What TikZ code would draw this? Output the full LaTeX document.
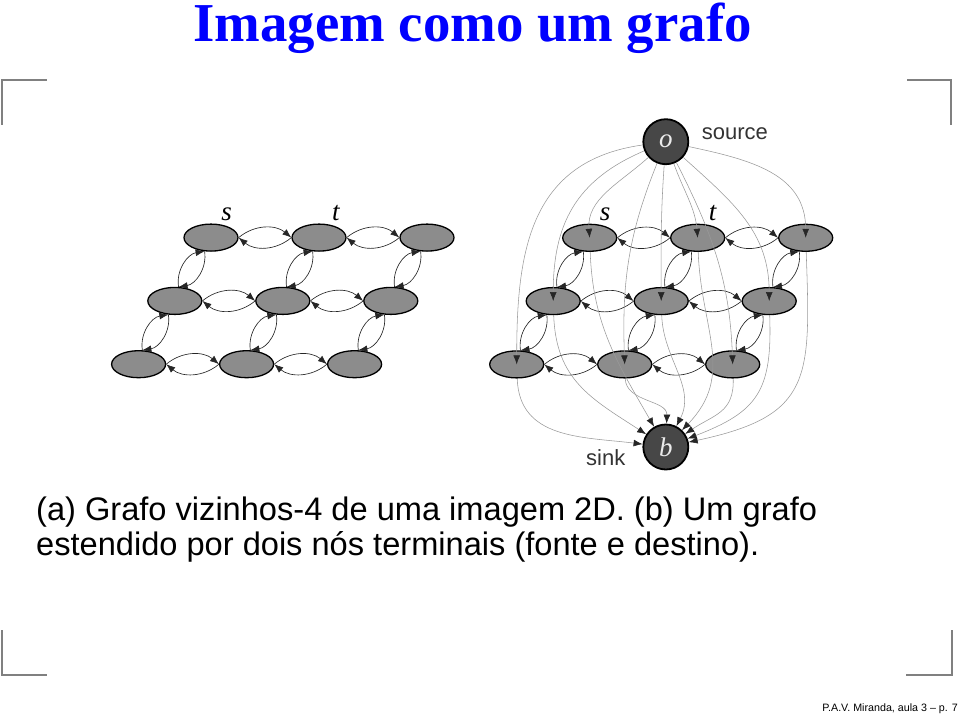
\documentclass[tikz,border=0pt]{standalone}
\usepackage{fontspec}
\setmainfont{Liberation Serif}
\setsansfont{Liberation Sans}
\usetikzlibrary{arrows.meta, shapes.geometric, positioning}

\tikzset{
  pixel/.style={ellipse, draw, line width=1.3pt, fill=black!45, minimum width=54pt, minimum height=27pt, inner sep=0pt},
  terminal/.style={circle, draw, line width=1.8pt, fill=black!72, minimum size=45pt, inner sep=0pt, text=black!8, font=\fontsize{27}{27}\selectfont\itshape},
  link/.style={line width=0.65pt, black!85, -{Latex[length=9pt,width=6.8pt]}},
  tlink/.style={line width=0.55pt, black!40, -{Latex[length=9pt,width=6.8pt,color=black!85]}},
  corner/.style={line width=1.5pt, black!50},
  letter/.style={anchor=base, inner sep=0pt, font=\fontsize{27}{27}\selectfont\itshape},
  tag/.style={anchor=base west, inner sep=0pt, text=black!80, font=\sffamily\fontsize{22}{22}\selectfont},
  caption/.style={anchor=base west, inner sep=0pt, font=\sffamily\fontsize{32.6}{35}\selectfont},
}

\begin{document}
\begin{tikzpicture}[x=1pt, y=1pt]
  \useasboundingbox (0,0) rectangle (960,-714);

  % title
  \node[anchor=base, inner sep=0pt, text=blue, font=\bfseries\fontsize{54.8}{60}\selectfont] (title) at (472.5,-42) {Imagem como um grafo};

  % corners of the slide
  \draw[corner] (2,-125) -- (2,-80) -- (47,-80);
  \draw[corner] (907,-80) -- (951,-80) -- (951,-125);
  \draw[corner] (2,-630) -- (2,-675) -- (47,-675);
  \draw[corner] (906,-675) -- (952,-675) -- (952,-630);

  % the two grids of pixels
  \foreach \i in {0,1,2} {
    \foreach \j in {0,1,2} {
      \node[pixel] (l\i\j) at ({211+108*\j-36.2*\i}, {-237.6-63.3*\i}) {};
      \node[pixel] (r\i\j) at ({589.7+108*\j-36.5*\i}, {-237.8-63.3*\i}) {};
    }
  }

  % neighbour links
  \foreach \g in {l,r} {
    \foreach \i in {0,1,2} {
      \foreach \j/\k in {0/1,1/2} {
        \draw[link] (\g\i\j.east) to[bend left=40] (\g\i\k.west);
        \draw[link] (\g\i\k.west) to[bend left=40] (\g\i\j.east);
      }
    }
    \foreach \i/\n in {0/1,1/2} {
      \foreach \j in {0,1,2} {
        \draw[link] (\g\n\j.75) to[bend left=45] (\g\i\j.-115);
        \draw[link] (\g\i\j.-115) to[bend left=45] (\g\n\j.75);
      }
    }
  }

  \node[letter] (ls) at (226.7,-220) {s};
  \node[letter] (lt) at (335.8,-220) {t};
  \node[letter] (rs) at (605,-220) {s};
  \node[letter] (rt) at (712.5,-220) {t};

  % terminals
  \node[terminal] (o) at (665.8,-141.7) {o};
  \node[terminal] (b) at (665.8,-447) {b};
  \node[tag] (source) at (701.7,-140) {source};
  \node[tag] (sink) at (586,-465) {sink};

  \foreach \n/\a/\c/\L in {20/188/90/1.15, 10/203/90/1.1, 00/222/95/1, 21/248/92/1, 11/266/90/1, 01/290/95/1, 22/297/92/1, 12/318/90/1.05, 02/348/90/1.1}
    \draw[tlink] (o) to[out=\a, in=\c, looseness=\L] (r\n.center);
  \foreach \n/\c/\L in {20/173/1.1, 10/147/1.1, 00/120/1, 21/88/1, 11/63/1, 01/46/1.1, 22/34/1.2, 12/21/1.3, 02/12/1.45}
    \draw[tlink] (r\n) to[out=-88, in=\c, looseness=\L] (b);

  % caption
  \node[caption] (cap1) at (36,-520) {(a) Grafo vizinhos-4 de uma imagem 2D. (b) Um grafo};
  \node[caption] (cap2) at (36,-555) {estendido por dois nós terminais (fonte e destino).};

  \node[anchor=base east, inner sep=0pt, font=\sffamily\fontsize{10.7}{12}\selectfont] (foot) at (958,-711) {P.A.V. Miranda, aula 3 – p. 7};
\end{tikzpicture}
\end{document}
